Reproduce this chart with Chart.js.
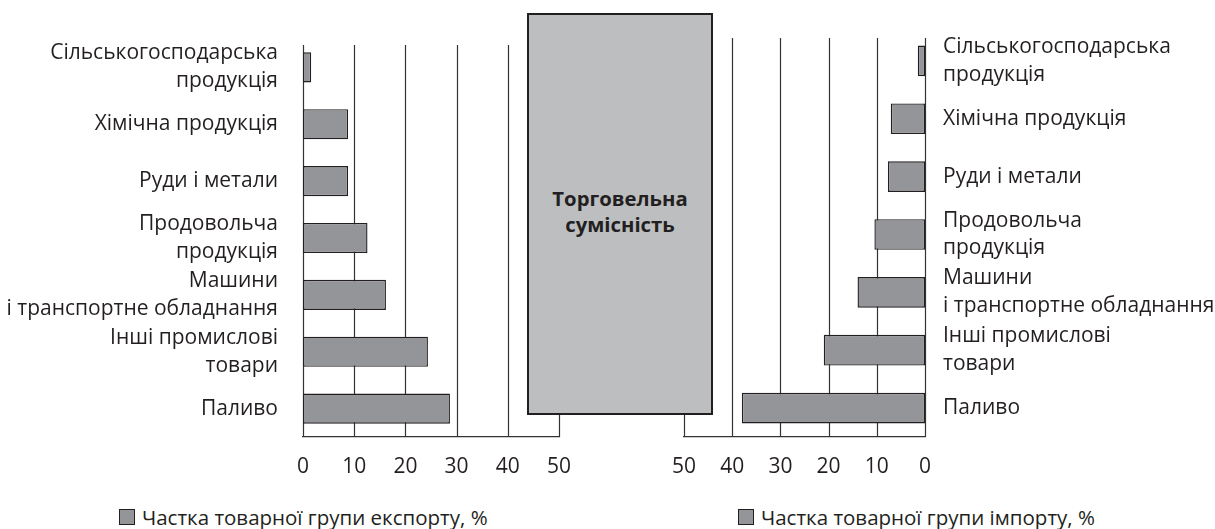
<!DOCTYPE html>
<html><head><meta charset="utf-8">
<script src="https://cdn.jsdelivr.net/npm/chart.js@4.4.1/dist/chart.umd.min.js"></script>
<style>
html,body{margin:0;padding:0;background:#fff;}
body{width:1215px;height:529px;position:relative;overflow:hidden;font-family:'Open Sans',sans-serif;color:#231f20;}
canvas{position:absolute;top:0;}
#cl{left:0;}
#cr{left:615px;}
#box{position:absolute;left:527px;top:13px;width:186px;height:402px;box-sizing:border-box;border:2.5px solid #231f20;background:#bcbec0;display:flex;align-items:center;justify-content:center;text-align:center;font-weight:700;font-size:20.3px;line-height:26px;padding-bottom:7px;z-index:2;}
.sq{position:absolute;top:509px;width:16px;height:16px;box-sizing:border-box;border:1px solid #231f20;background:#939598;}
.lt{position:absolute;top:505px;font-size:20.5px;line-height:24px;white-space:nowrap;}
</style>
</head><body>
<canvas id="cl" width="600" height="490"></canvas>
<canvas id="cr" width="600" height="490"></canvas>
<div id="box">Торговельна<br>сумісність</div>
<div class="sq" style="left:119px"></div><div class="lt" id="l1" style="left:142px"></div>
<div class="sq" style="left:738px"></div><div class="lt" id="l2" style="left:761px"></div>
<script>
const categories = [["Сільськогосподарська","продукція"],"Хімічна продукція","Руди і метали",["Продовольча","продукція"],["Машини","і транспортне обладнання"],["Інші промислові","товари"],"Паливо"];
const exportShare = [1.6, 8.8, 8.8, 12.6, 16.2, 24.4, 28.7];
const importShare = [1.5, 7.1, 7.7, 10.5, 14.0, 21.0, 38.0];
const axisMin = 0, axisMax = 50, axisStep = 10;
const legendExport = "Частка товарної групи експорту, %";
const legendImport = "Частка товарної групи імпорту, %";

document.getElementById('l1').textContent = legendExport;
document.getElementById('l2').textContent = legendImport;

Chart.defaults.font.family = "'Open Sans', sans-serif";
Chart.defaults.color = '#231f20';

const vgrid = {
  id: 'vgrid',
  beforeDatasetsDraw(chart) {
    const {ctx, chartArea, scales: {x}} = chart;
    ctx.save();
    ctx.strokeStyle = '#333';
    ctx.lineWidth = 1.2;
    x.ticks.forEach(t => {
      const px = Math.round(x.getPixelForValue(t.value)) + 0.5;
      ctx.beginPath();
      ctx.moveTo(px, chartArea.top + 6);
      ctx.lineTo(px, chartArea.bottom);
      ctx.stroke();
    });
    ctx.restore();
  }
};

function makeChart(id, data, side) {
  const right = side === 'right';
  return new Chart(document.getElementById(id), {
    type: 'bar',
    data: {
      labels: categories,
      datasets: [{
        data: data,
        backgroundColor: '#939598',
        borderColor: '#231f20',
        borderWidth: 1.4,
        borderSkipped: false,
        barPercentage: 0.53,
        categoryPercentage: 1
      }]
    },
    options: {
      indexAxis: 'y',
      responsive: false,
      animation: false,
      devicePixelRatio: 1,
      layout: { padding: right ? {top: 20, left: 69, right: 0, bottom: 0} : {top: 20, left: 0, right: 41, bottom: 0} },
      plugins: { legend: {display: false}, tooltip: {enabled: false} },
      scales: {
        x: {
          type: 'linear', min: axisMin, max: axisMax, reverse: right,
          ticks: { stepSize: axisStep, padding: 17, font: {size: 21}, color: '#231f20' },
          grid: { display: false, drawTicks: false },
          border: { display: true, color: '#333', width: 1.2 },
          afterFit(s) { s.height = 53; }
        },
        y: {
          position: right ? 'right' : 'left',
          ticks: { autoSkip: false, padding: right ? 18 : 25, font: {size: 21, lineHeight: 1.33}, color: '#231f20' },
          grid: { display: false, drawTicks: false },
          border: { display: false },
          afterFit(s) { s.width = right ? 290 : 303; }
        }
      }
    },
    plugins: [vgrid]
  });
}
makeChart('cl', exportShare, 'left');
makeChart('cr', importShare, 'right');
</script>
</body></html>
